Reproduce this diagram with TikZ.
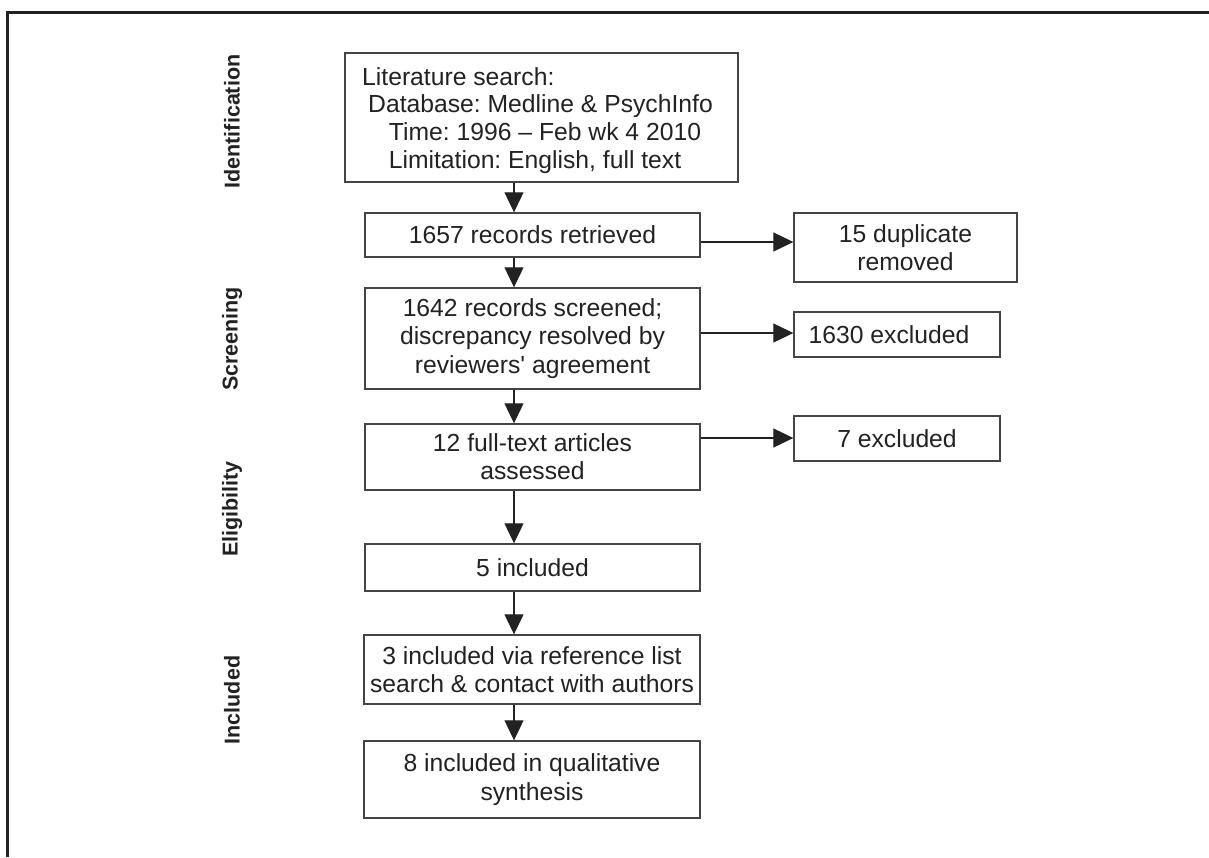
\documentclass[tikz,border=0pt]{standalone}
\usepackage{fontspec}
\setmainfont{Liberation Sans}[Ligatures=TeXOff]
\usetikzlibrary{arrows.meta}
\definecolor{ink}{HTML}{222222}
\definecolor{edge}{HTML}{444444}
\frenchspacing
\begin{document}
\begin{tikzpicture}[x=1pt,y=-1pt,
  box/.style={draw=edge, line width=1.4pt, rectangle, inner sep=0pt, align=center,
              font=\fontsize{24.7}{28.3}\selectfont, text=ink},
  phase/.style={rotate=90, inner sep=0pt, font=\fontsize{21.5}{24}\selectfont\bfseries, text=ink},
  txt/.style={inner sep=0pt, font=\fontsize{24.7}{28.3}\selectfont, text=ink},
  arr/.style={draw=ink, line width=1.1pt, -{Triangle[length=20pt,width=19pt]}},
  frameline/.style={draw=ink, line width=2.2pt}
]
\useasboundingbox (0,0) rectangle (1209,857);
\fill[white] (0,0) rectangle (1209,857);

% outer frame (open at right and bottom)
\draw[frameline] (7.5,857) -- (7.5,12.5) -- (1209,12.5);

% phase labels
\node[phase] (pid) at (232,121.5) {Identification};
\node[phase] (psc) at (232,339) {Screening};
\node[phase] (pel) at (232,509) {Eligibility};
\node[phase] (pin) at (232,700) {Included};

% main column
\node[box, minimum width=393pt, minimum height=129pt] (b1) at (541.5,117.5) {};
\node[txt, anchor=base west] (b1l1) at (362,85) {Literature search:};
\node[txt, anchor=base] (b1l2) at (540.5,112.7) {Database: Medline \& PsychInfo};
\node[txt, anchor=base] (b1l3) at (545,140.3) {Time: 1996 – Feb wk 4 2010};
\node[txt, anchor=base] (b1l4) at (535,168) {Limitation: English, full text};

\node[box, minimum width=335pt, minimum height=44pt] (b2) at (532.5,235) {1657 records retrieved};
\node[box, minimum width=335pt, minimum height=101pt] (b3) at (532.5,338.5)
  {1642 records screened;\\discrepancy resolved by\\reviewers' agreement};
\node[box, minimum width=335pt, minimum height=66pt] (b4) at (532.5,457) {12 full-text articles\\assessed};
\node[box, minimum width=335pt, minimum height=47pt] (b5) at (532.5,567.5) {5 included};
\node[box, minimum width=336pt, minimum height=69pt] (b6) at (532,669.5)
  {3 included via reference list\\search \& contact with authors};
\node[box, minimum width=336pt, minimum height=77pt] (b7) at (532,779.5) {8 included in qualitative\\synthesis};

% side boxes
\node[box, minimum width=223pt, minimum height=69pt] (s1) at (905.5,247.5) {15 duplicate\\removed};
\node[box, minimum width=206pt, minimum height=45pt] (s2) at (897,334.5) {\hspace*{-16pt}1630 excluded};
\node[box, minimum width=206pt, minimum height=45pt] (s3) at (897,438.5) {7 excluded};

% connector guides
\coordinate (ax) at (514,0);
\coordinate (r1) at (0,242);
\coordinate (r2) at (0,333);
\coordinate (r3) at (0,438);

% vertical arrows
\draw[arr] (b1.south -| ax) -- (b2.north -| ax);
\draw[arr] (b2.south -| ax) -- (b3.north -| ax);
\draw[arr] (b3.south -| ax) -- (b4.north -| ax);
\draw[arr] (b4.south -| ax) -- (b5.north -| ax);
\draw[arr] (b5.south -| ax) -- (b6.north -| ax);
\draw[arr] (b6.south -| ax) -- (b7.north -| ax);

% horizontal arrows
\draw[arr] (b2.east |- r1) -- (s1.west |- r1);
\draw[arr] (b3.east |- r2) -- (s2.west |- r2);
\draw[arr] (b4.east |- r3) -- (s3.west |- r3);
\end{tikzpicture}
\end{document}
